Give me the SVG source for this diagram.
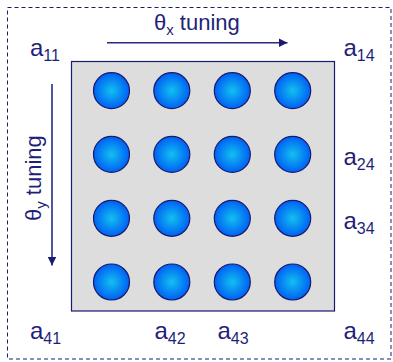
<svg xmlns="http://www.w3.org/2000/svg" width="393" height="362" viewBox="0 0 393 362">
<style>
.lbl{font-family:"Liberation Sans",Arial,sans-serif;font-size:24px;fill:#1f1f78}
.sub{font-size:16px}
.tun{font-family:"Liberation Sans",Arial,sans-serif;font-size:22px;fill:#1f1f78}
.tsub{font-size:15px}
.dot{fill:url(#g);stroke:#1a1a6a;stroke-width:1.2}
.arr{stroke:#2a2a80;stroke-width:1.6;fill:none}
</style>
<defs>
<radialGradient id="g" cx="0.5" cy="0.5" r="0.5">
<stop offset="0" stop-color="#12c0f0"/>
<stop offset="1" stop-color="#0060f4"/>
</radialGradient>
<marker id="ah" viewBox="0 0 10 10" refX="10" refY="5" markerWidth="9" markerHeight="9" markerUnits="userSpaceOnUse" orient="auto">
<path d="M0,0 L10,5 L0,10 z" fill="#1a1a70"/>
</marker>
</defs>
<rect x="7.5" y="7.5" width="383.5" height="351.5" fill="none" stroke="#1a1a6e" stroke-width="1" stroke-dasharray="4,3"/>
<g id="plate">
<rect x="71.5" y="61.5" width="263" height="249.5" fill="#dddddd" stroke="#1a1a6e" stroke-width="1.2"/>
</g>
<g id="cells">
<circle class="dot" cx="111.5" cy="90.7" r="18"/>
<circle class="dot" cx="171.8" cy="90.7" r="18"/>
<circle class="dot" cx="232.3" cy="90.7" r="18"/>
<circle class="dot" cx="292.7" cy="90.7" r="18"/>
<circle class="dot" cx="111.5" cy="154.4" r="18"/>
<circle class="dot" cx="171.8" cy="154.4" r="18"/>
<circle class="dot" cx="232.3" cy="154.4" r="18"/>
<circle class="dot" cx="292.7" cy="154.4" r="18"/>
<circle class="dot" cx="111.5" cy="218.3" r="18"/>
<circle class="dot" cx="171.8" cy="218.3" r="18"/>
<circle class="dot" cx="232.3" cy="218.3" r="18"/>
<circle class="dot" cx="292.7" cy="218.3" r="18"/>
<circle class="dot" cx="111.5" cy="282" r="18"/>
<circle class="dot" cx="171.8" cy="282" r="18"/>
<circle class="dot" cx="232.3" cy="282" r="18"/>
<circle class="dot" cx="292.7" cy="282" r="18"/>
</g>
<g id="connectors">
<line class="arr" x1="107" y1="42.7" x2="287.5" y2="42.7" marker-end="url(#ah)"/>
<line class="arr" x1="52" y1="84" x2="52" y2="265.5" marker-end="url(#ah)"/>
</g>
<g id="labels">
<text class="tun" x="154" y="30">θ<tspan class="tsub" dy="5">x</tspan><tspan dy="-5"> tuning</tspan></text>
<text class="tun" transform="translate(41,221) rotate(-90)">θ<tspan class="tsub" dy="5">y</tspan><tspan dy="-5"> tuning</tspan></text>
<text class="lbl" x="30" y="55.7">a<tspan class="sub" dy="5.3">11</tspan></text>
<text class="lbl" x="343.5" y="55.7">a<tspan class="sub" dy="5.3">14</tspan></text>
<text class="lbl" x="343.5" y="165">a<tspan class="sub" dy="5.3">24</tspan></text>
<text class="lbl" x="343.5" y="229">a<tspan class="sub" dy="5.3">34</tspan></text>
<text class="lbl" x="30" y="338.7">a<tspan class="sub" dy="5.3">41</tspan></text>
<text class="lbl" x="154.5" y="338.7">a<tspan class="sub" dy="5.3">42</tspan></text>
<text class="lbl" x="217.5" y="338.7">a<tspan class="sub" dy="5.3">43</tspan></text>
<text class="lbl" x="343.5" y="338.7">a<tspan class="sub" dy="5.3">44</tspan></text>
</g>
</svg>
